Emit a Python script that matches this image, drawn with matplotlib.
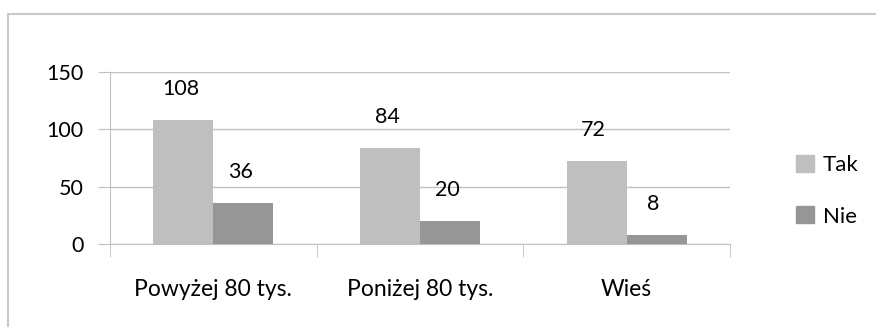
import numpy as np
import matplotlib.pyplot as plt
from matplotlib.lines import Line2D
from matplotlib.patches import Patch

categories = ["Powyżej 80 tys.", "Poniżej 80 tys.", "Wieś"]
tak = [108, 84, 72]
nie = [36, 20, 8]
series_names = ["Tak", "Nie"]
y_ticks = [0, 50, 100, 150]

W, H = 876, 327
plt.rcParams['font.family'] = ['Lato', 'DejaVu Sans']
fig = plt.figure(figsize=(W / 100, H / 100), dpi=100)

# plot area in pixels: x 110..730, y 72..244
ax = fig.add_axes([110 / W, 1 - 244 / H, 620 / W, 172 / H])

x = np.arange(len(categories))
bw = 0.29
c_tak, c_nie = "#bfbfbf", "#969696"
ax.bar(x - bw / 2, tak, bw, color=c_tak, zorder=3)
ax.bar(x + bw / 2, nie, bw, color=c_nie, zorder=3)

for xi, v in zip(x - bw / 2, tak):
    ax.annotate(str(v), (xi, v), xytext=(-3, 21), textcoords="offset pixels",
                ha="center", va="bottom", fontsize=15.5, color="#000000")
for xi, v in zip(x + bw / 2, nie):
    ax.annotate(str(v), (xi, v), xytext=(-3, 21), textcoords="offset pixels",
                ha="center", va="bottom", fontsize=15.5, color="#000000")

ax.set_xlim(-0.5, len(categories) - 0.5)
ax.set_ylim(0, 150)
ax.set_yticks(y_ticks)
ax.set_yticklabels([str(t) for t in y_ticks], fontsize=15.5)
ax.yaxis.grid(True, color="#c0c0c0", linewidth=1, zorder=0)
ax.tick_params(axis="y", length=9, color="#c0c0c0", pad=10)

# category labels between boundary ticks
ax.set_xticks(x)
ax.set_xticklabels(categories, fontsize=16.5)
ax.tick_params(axis="x", length=0, pad=25)
ax.set_xticks(np.arange(len(categories) + 1) - 0.5, minor=True)
ax.tick_params(axis="x", which="minor", length=9, color="#c0c0c0")

for s in ["top", "right"]:
    ax.spines[s].set_visible(False)
ax.spines["left"].set_color("#c0c0c0")
ax.spines["bottom"].set_color("#c0c0c0")

handles = [Patch(color=c_tak), Patch(color=c_nie)]
fig.legend(handles, series_names, loc="upper left",
           bbox_to_anchor=(776 / W, 1 - 135 / H), frameon=False,
           fontsize=16, handlelength=0.8, handleheight=0.8,
           labelspacing=1.4, handletextpad=0.4)

# chart frame
fig.add_artist(Line2D([8 / W, 1], [1 - 14 / H, 1 - 14 / H],
                      transform=fig.transFigure, color="#c8c8c8", lw=1.5))
fig.add_artist(Line2D([8 / W, 8 / W], [0, 1 - 14 / H],
                      transform=fig.transFigure, color="#c8c8c8", lw=1.5))

fig.savefig("out.png", dpi=100)
